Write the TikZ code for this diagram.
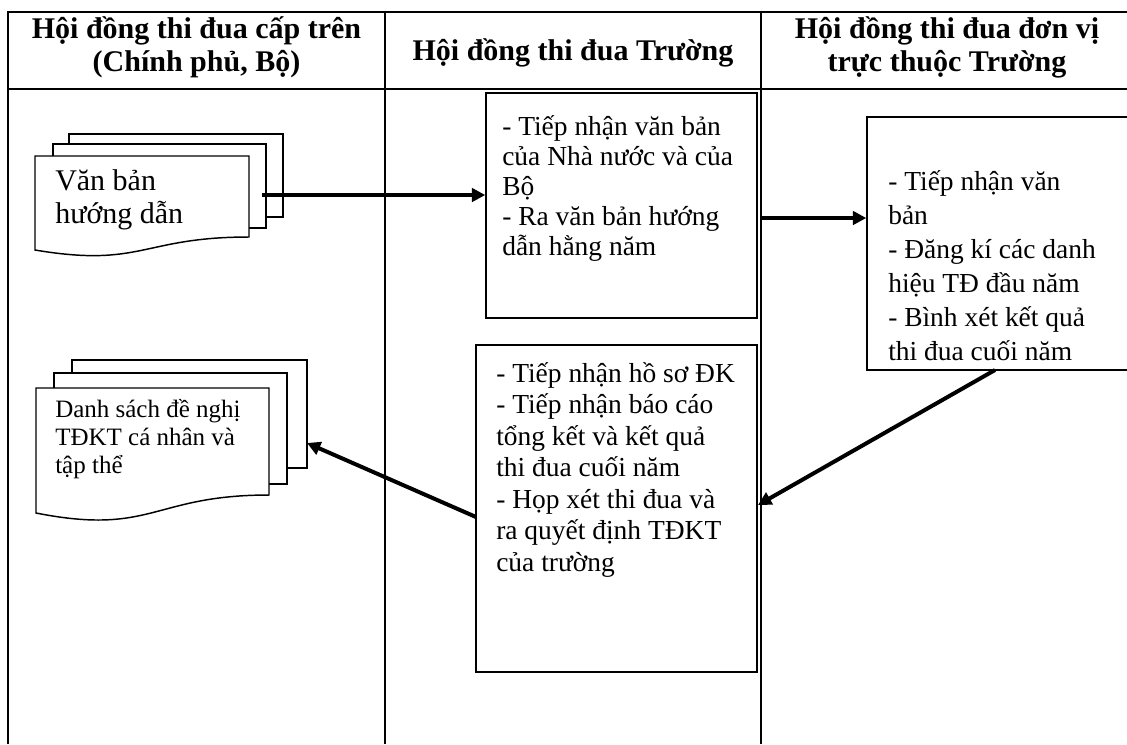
\documentclass[tikz,border=0pt]{standalone}
\usepackage{fontspec}
\setmainfont{Liberation Serif}
\usetikzlibrary{arrows.meta,fit}
\begin{document}
\begin{tikzpicture}[x=0.75pt,y=-0.75pt,
  grid/.style={line width=1.5pt},
  box/.style={draw,line width=1.1pt,inner sep=0pt},
  page/.style={draw,fill=white,line width=1.1pt},
  flow/.style={line width=3pt,-{Triangle[length=10pt,width=10pt]}},
  head/.style={font=\fontsize{22.5pt}{24.75pt}\selectfont\bfseries,align=center,inner sep=0pt,anchor=base},
  body/.style={font=\fontsize{20.6pt}{23.625pt}\selectfont,align=left,inner sep=0pt,anchor=base west},
]
\useasboundingbox (0,0) rectangle (1127,744);
\clip (0,0) rectangle (1127,744);

% table frame and column rules
\draw[grid] (8,744) -- (8,12) -- (1140,12);
\draw[grid] (8,89) -- (1140,89);
\draw[grid] (385,12) -- (385,744);
\draw[grid] (761,12) -- (761,744);

% column headings (anchored on the last line's baseline)
\node[head] (h1) at (196.5,71) {Hội đồng thi đua cấp trên\\(Chính phủ, Bộ)};
\node[head] (h2) at (573,60) {Hội đồng thi đua Trường};
\node[head] (h3) at (947,71) {Hội đồng thi đua đơn vị\\trực thuộc Trường};

% stacked documents: guidance
\draw[page] (69,134) rectangle (283,217);
\draw[page] (53,144) rectangle (266,228);
\draw[page] (35,156) -- (249,156) -- (249,237)
  .. controls (142,237) and (142,268) .. (35,250) -- cycle;
\node[body,font=\fontsize{22.5pt}{24.75pt}\selectfont] (docA) at (55,223) {Văn bản\\hướng dẫn};

% stacked documents: nomination list
\draw[page] (72,360) rectangle (307,468);
\draw[page] (54,373) rectangle (287,484);
\draw[page] (36,388) -- (269,388) -- (269,495)
  .. controls (152.5,495) and (152.5,536) .. (36,513) -- cycle;
\node[body,font=\fontsize{18.75pt}{21pt}\selectfont] (docB) at (55,473) {Danh sách đề nghị\\TĐKT cá nhân và\\tập thể};
\coordinate (docBin) at (307,443);

% process boxes
\node[box,fit={(486,93) (757,318)}] (boxA) {};
\node[body,font=\fontsize{20.6pt}{22.5pt}\selectfont] (boxAtext) at (502,255) {- Tiếp nhận văn bản\\của Nhà nước và của\\Bộ\\- Ra văn bản hướng\\dẫn hằng năm};

\node[box,fit={(476,345) (757,672)}] (boxB) {};
\node[body] (boxBtext) at (496,571) {- Tiếp nhận hồ sơ ĐK\\- Tiếp nhận báo cáo\\tổng kết và kết quả\\thi đua cuối năm\\- Họp xét thi đua và\\ra quyết định TĐKT\\của trường};

\node[box,fit={(867,117) (1140,370)}] (boxC) {};
\node[body,font=\fontsize{20.6pt}{25.5pt}\selectfont] (boxCtext) at (888,360) {- Tiếp nhận văn\\bản\\- Đăng kí các danh\\hiệu TĐ đầu năm\\- Bình xét kết quả\\thi đua cuối năm};

% flow connectors
\coordinate (f1) at (262,195);
\draw[flow] (f1) -- (f1 -| boxA.west);
\coordinate (f2) at (761,218);
\draw[flow] (f2) -- (f2 -| boxC.west);
\coordinate (f3) at (995,370);
\coordinate (f3end) at (758,505);
\draw[flow] (f3) -- (f3end);
\coordinate (f4) at (476,517);
\draw[flow] (f4) -- (docBin);
\end{tikzpicture}
\end{document}
